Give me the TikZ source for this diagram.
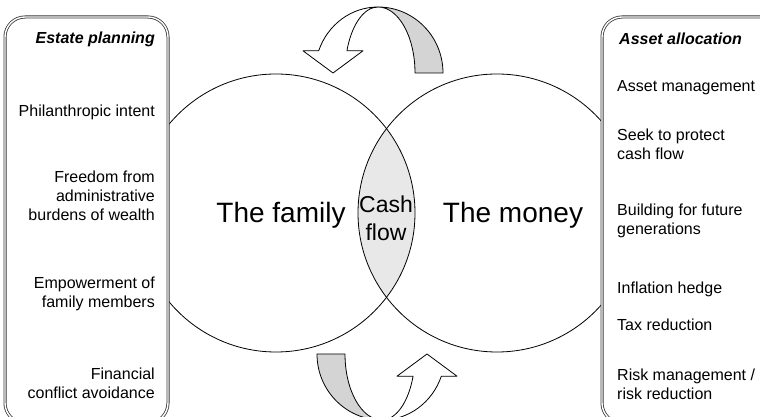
\documentclass[tikz,border=0pt]{standalone}
\usepackage{fontspec}
\setmainfont{Liberation Sans}
\usepackage{xcolor}

\definecolor{arrowgray}{gray}{0.83}
\definecolor{lensgray}{gray}{0.91}

\tikzset{
  panel/.style={draw=black!78, double=white, double distance=1.4pt, line width=0.8pt,
    rounded corners=20pt, fill=white},
  item/.style={font=\fontsize{16}{19}\selectfont, inner sep=0pt},
  itemleft/.style={item, anchor=east, align=right},
  itemright/.style={item, anchor=west, align=left},
  heading/.style={font=\fontsize{16}{19}\selectfont\bfseries\itshape, inner sep=0pt},
  bigtext/.style={font=\fontsize{28}{32}\selectfont},
  ribbon/.style={draw=black, line width=0.8pt, line join=round},
  pics/turnarrow/.style={code={
    \filldraw[ribbon, fill=arrowgray] (65,0)
      arc[start angle=0, end angle=90, x radius=65, y radius=66]
      arc[start angle=90, end angle=0, x radius=37, y radius=66] -- cycle;
    \filldraw[ribbon, fill=white] (0,66)
      arc[start angle=90, end angle=160.3, x radius=63, y radius=66]
      -- (-75,22.2) -- (-45,0) -- (-15,22.2) -- (-31.1,22.2)
      arc[start angle=160.3, end angle=90, x radius=33, y radius=66] -- cycle;
  }}
}

\begin{document}
\begin{tikzpicture}[x=1pt, y=1pt]
    \useasboundingbox (0,0) rectangle (760,417);
    \coordinate (famc) at (276,204);
    \coordinate (monc) at (497,204);
    % overlap of the two circles
    \begin{scope}
      \clip (famc) circle (139);
      \fill[lensgray] (monc) circle (139);
    \end{scope}
    \draw[line width=0.8pt] (famc) circle (139);
    \draw[line width=0.8pt] (monc) circle (139);
    \node[bigtext] (family) at (281,202) {The family};
    \node[bigtext] (money) at (513,202) {The money};
    \node[font=\fontsize{23}{28}\selectfont, align=center, inner sep=0pt] (cash) at (386,199) {Cash\\flow};
    % the two turning arrows
    \pic at (378,344) {turnarrow};
    \pic[rotate=180] at (382,63) {turnarrow};
    % left panel
    \draw[panel] (5,-6) rectangle (168,400);
    \node[heading, anchor=east] (estate) at (155,378) {Estate planning};
    \node[itemleft] (phil) at (155,305) {Philanthropic intent};
    \node[itemleft] (freedom) at (155,221) {Freedom from\\administrative\\burdens of wealth};
    \node[itemleft] (empower) at (155,123) {Empowerment of\\family members};
    \node[itemleft] (conflict) at (155,34) {Financial\\conflict avoidance};
    % right panel
    \draw[panel] (602,-6) rectangle (800,400);
    \node[heading, anchor=west] (alloc) at (619,378) {Asset allocation};
    \node[itemright] (mgmt) at (617,329) {Asset management};
    \node[itemright] (protect) at (617,273) {Seek to protect\\cash flow};
    \node[itemright] (future) at (617,196) {Building for future\\generations};
    \node[itemright] (inflation) at (617,128) {Inflation hedge};
    \node[itemright] (tax) at (617,92) {Tax reduction};
    \node[itemright] (risk) at (617,33) {Risk management /\\risk reduction};
\end{tikzpicture}
\end{document}
